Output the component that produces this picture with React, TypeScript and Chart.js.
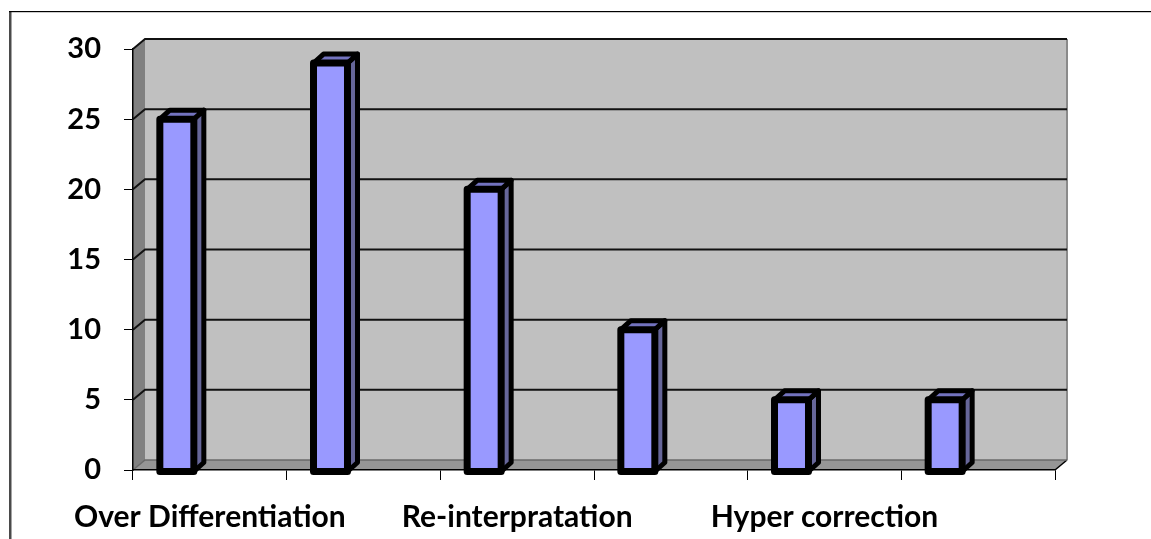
import React, { useEffect, useRef } from 'react';
import { Chart, registerables } from 'chart.js';

Chart.register(...registerables);

// ---- data ----
const categories = ['Over Differentiation', '', 'Re-interpratation', '', 'Hyper correction', ''];
const seriesValues = [25, 29, 20, 10, 5, 5];
const spacerValues = [null, null, null, null, null, null];
const yTickValues = [0, 5, 10, 15, 20, 25, 30];

const FONT = 'Lato, "Open Sans", sans-serif';
const WALL_DX = 12;
const WALL_DY = 10;
const BAR_DX = 10;
const BAR_DY = 9;

const wallPlugin = {
  id: 'walls3d',
  beforeDraw(chart: any) {
    const ctx = chart.ctx;
    const { left, right, top, bottom } = chart.chartArea;
    const ys = chart.scales.y;
    ctx.save();
    // outer frame
    ctx.fillStyle = '#4a4a4a';
    ctx.fillRect(9, 11, 2.5, chart.height);
    ctx.fillStyle = '#000';
    ctx.fillRect(9, 11, chart.width, 1.2);

    // left side wall
    ctx.fillStyle = '#808080';
    ctx.beginPath();
    ctx.moveTo(left, top);
    ctx.lineTo(left + WALL_DX, top - WALL_DY);
    ctx.lineTo(left + WALL_DX, bottom - WALL_DY);
    ctx.lineTo(left, bottom);
    ctx.closePath();
    ctx.fill();

    // back wall
    ctx.fillStyle = '#C0C0C0';
    ctx.fillRect(left + WALL_DX, top - WALL_DY, right - left, bottom - top);
    ctx.strokeStyle = '#8a8a8a';
    ctx.lineWidth = 2;
    ctx.beginPath();
    ctx.moveTo(right + WALL_DX, top - WALL_DY);
    ctx.lineTo(right + WALL_DX, bottom - WALL_DY);
    ctx.stroke();

    // floor
    ctx.fillStyle = '#969696';
    ctx.beginPath();
    ctx.moveTo(left, bottom);
    ctx.lineTo(left + WALL_DX, bottom - WALL_DY);
    ctx.lineTo(right + WALL_DX, bottom - WALL_DY);
    ctx.lineTo(right, bottom);
    ctx.closePath();
    ctx.fill();
    ctx.strokeStyle = '#000';
    ctx.lineWidth = 1.5;
    ctx.beginPath();
    ctx.moveTo(right + WALL_DX, bottom - WALL_DY);
    ctx.lineTo(right, bottom);
    ctx.stroke();

    // gridlines on walls
    yTickValues.forEach((v) => {
      const py = ys.getPixelForValue(v);
      ctx.strokeStyle = v === 0 ? '#6a6a6a' : '#111';
      ctx.lineWidth = v === 0 ? 1.5 : 2;
      ctx.beginPath();
      ctx.moveTo(left, py);
      ctx.lineTo(left + WALL_DX, py - WALL_DY);
      ctx.lineTo(right + WALL_DX, py - WALL_DY);
      ctx.stroke();
    });
    ctx.restore();
  },
};

const bar3dPlugin = {
  id: 'bars3d',
  afterDatasetsDraw(chart: any) {
    const ctx = chart.ctx;
    const meta = chart.getDatasetMeta(0);
    ctx.save();
    ctx.lineJoin = 'round';
    meta.data.forEach((bar: any) => {
      const p = bar.getProps(['x', 'y', 'base', 'width'], true);
      const L = p.x - p.width / 2;
      const R = p.x + p.width / 2;
      const T = p.y;
      const B = p.base + 2;
      // side face
      ctx.beginPath();
      ctx.moveTo(R, T);
      ctx.lineTo(R + BAR_DX, T - BAR_DY);
      ctx.lineTo(R + BAR_DX, B - BAR_DY);
      ctx.lineTo(R, B);
      ctx.closePath();
      ctx.fillStyle = '#666699';
      ctx.fill();
      ctx.strokeStyle = '#000';
      ctx.lineWidth = 5;
      ctx.stroke();
      // top face
      ctx.beginPath();
      ctx.moveTo(L, T);
      ctx.lineTo(L + BAR_DX, T - BAR_DY);
      ctx.lineTo(R + BAR_DX, T - BAR_DY);
      ctx.lineTo(R, T);
      ctx.closePath();
      ctx.fillStyle = '#7373BF';
      ctx.fill();
      ctx.stroke();
      // front face
      ctx.fillStyle = '#9999FF';
      ctx.fillRect(L, T, p.width, B - T);
      ctx.lineWidth = 7;
      ctx.strokeRect(L, T, p.width, B - T);
    });
    ctx.restore();
  },
};

export default function App() {
  const canvasRef = useRef<HTMLCanvasElement | null>(null);

  useEffect(() => {
    const canvas = canvasRef.current;
    if (!canvas) return;
    const chart = new Chart(canvas, {
      type: 'bar',
      data: {
        labels: categories,
        datasets: [
          {
            label: 'Series1',
            data: seriesValues,
            backgroundColor: '#9999FF',
            borderWidth: 0,
            categoryPercentage: 0.859,
            barPercentage: 0.515,
          },
          {
            label: 'Spacer',
            data: spacerValues as any,
            backgroundColor: 'rgba(0,0,0,0)',
            borderWidth: 0,
            categoryPercentage: 0.859,
            barPercentage: 0.515,
          },
        ],
      },
      options: {
        responsive: false,
        animation: false,
        layout: { padding: { top: 49, right: 96, bottom: 0, left: 0 } },
        plugins: {
          legend: { display: false },
          tooltip: { enabled: false },
        },
        scales: {
          x: {
            offset: true,
            grid: {
              offset: true,
              drawOnChartArea: false,
              drawTicks: true,
              tickLength: 10,
              color: '#000',
              lineWidth: 1,
            },
            border: { display: true, color: '#000', width: 1.5 },
            ticks: {
              autoSkip: false,
              maxRotation: 0,
              color: '#000',
              padding: 19,
              font: { family: FONT, size: 30, weight: 'bold' },
            },
            afterFit: (scale: any) => {
              scale.height = 69;
            },
          },
          y: {
            min: 0,
            max: 30,
            ticks: {
              stepSize: 5,
              color: '#000',
              padding: 23,
              font: { family: FONT, size: 29, weight: 'bold' },
            },
            grid: {
              drawOnChartArea: false,
              drawTicks: true,
              tickLength: 9,
              color: '#000',
              lineWidth: 1,
            },
            border: { display: true, color: '#000', width: 1.5 },
            afterFit: (scale: any) => {
              scale.width = 133;
            },
          },
        },
      },
      plugins: [wallPlugin, bar3dPlugin],
    });
    return () => chart.destroy();
  }, []);

  return (
    <div style={{ position: 'fixed', left: 0, top: 0, width: 1151, height: 539, background: '#fff' }}>
      <canvas ref={canvasRef} width={1151} height={539} />
    </div>
  );
}
